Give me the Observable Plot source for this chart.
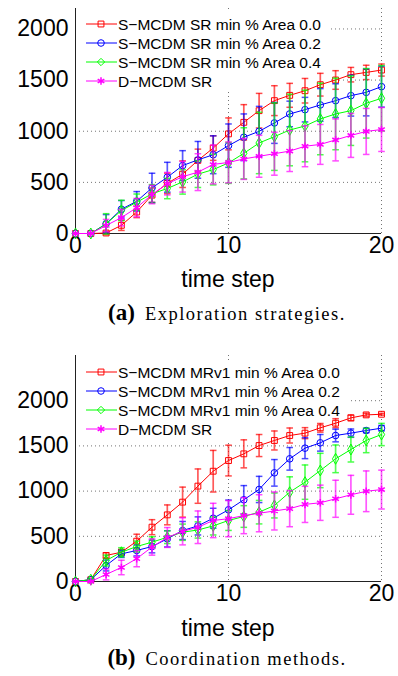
<!DOCTYPE html>
<html>
<head>
<meta charset="utf-8">
<script src="https://cdn.jsdelivr.net/npm/d3@7"></script>
<script src="https://cdn.jsdelivr.net/npm/@observablehq/plot@0.6"></script>
<style>
  body { margin: 0; background: white; }
  #page { position: relative; width: 398px; height: 676px; overflow: hidden; background: white; }
  .abs { position: absolute; white-space: nowrap; }
  .xlabel { font-family: "Liberation Sans", Arial, sans-serif; font-size: 23px; color: #000; transform: translate(-50%, -50%); }
  .cap { font-family: "Liberation Serif", "Times New Roman", serif; color: #000; transform: translate(-50%, -50%); }
  .cap b { font-size: 23px; margin-right: 10px; }
  .cap span { font-size: 18.5px; letter-spacing: 1.5px; }
</style>
</head>
<body>
<div id="page">
  <div id="plotA" class="abs" style="left:0;top:0"></div>
  <div class="abs xlabel" style="left:228px;top:279px">time step</div>
  <div class="abs cap" style="left:227px;top:313px"><b>(a)</b><span>Exploration strategies.</span></div>
  <div id="plotB" class="abs" style="left:0;top:340px"></div>
  <div class="abs xlabel" style="left:228px;top:628px">time step</div>
  <div class="abs cap" style="left:227px;top:658px"><b>(b)</b><span>Coordination methods.</span></div>
</div>
<script>
// ---------- data ----------
const steps = [0,1,2,3,4,5,6,7,8,9,10,11,12,13,14,15,16,17,18,19,20];
const xTicks = [0, 10, 20];
const yTicks = [0, 500, 1000, 1500, 2000];

// (a) Exploration strategies
const srArea00    = [0,0,5,80,210,375,490,580,715,835,974,1087,1201,1299,1351,1396,1455,1501,1553,1575,1598];
const srArea00Err = [0,0,15,50,55,70,100,130,110,120,156,173,169,146,117,120,111,91,71,70,59];
const srArea02    = [0,0,95,237,315,446,550,664,720,770,859,941,999,1081,1169,1211,1257,1299,1348,1380,1436];
const srArea02Err = [0,0,90,85,95,143,146,146,180,185,212,228,244,200,125,120,160,165,200,230,200];
const srArea04    = [0,0,94,225,306,388,440,505,580,625,690,784,885,947,1012,1051,1120,1169,1201,1273,1322];
const srArea04Err = [0,10,100,100,80,90,100,120,130,150,200,250,300,330,350,350,350,350,340,340,320];
const dmcdmSR     = [0,0,78,155,253,381,487,555,600,675,695,729,755,780,806,853,871,915,959,998,1017];
const dmcdmSRErr  = [0,0,60,80,90,90,110,150,180,190,200,200,205,210,200,200,195,205,215,225,215];

// (b) Coordination methods
const mrArea00    = [0,20,288,324,446,601,737,878,1055,1220,1338,1412,1504,1560,1615,1641,1700,1751,1810,1843,1850];
const mrArea00Err = [0,10,30,30,77,83,110,166,190,230,170,155,122,105,83,61,48,50,31,18,10];
const mrArea02    = [0,20,177,306,343,387,472,564,615,700,793,904,1018,1202,1357,1475,1534,1615,1641,1670,1696];
const mrArea02Err = [0,10,60,40,60,70,90,100,100,110,108,157,145,147,125,116,92,70,46,24,30];
const mrArea04    = [0,20,232,324,387,435,490,545,570,615,675,719,767,841,988,1099,1228,1357,1460,1560,1626];
const mrArea04Err = [0,10,60,50,60,60,70,90,90,100,110,120,130,138,170,190,190,153,138,135,123];

const labelsA = ["S\u2212MCDM SR min % Area 0.0", "S\u2212MCDM SR min % Area 0.2", "S\u2212MCDM SR min % Area 0.4", "D\u2212MCDM SR"];
const labelsB = ["S\u2212MCDM MRv1 min % Area 0.0", "S\u2212MCDM MRv1 min % Area 0.2", "S\u2212MCDM MRv1 min % Area 0.4", "D\u2212MCDM SR"];
const colors  = ["#ff0000", "#0000ff", "#00ff00", "#ff00ff"];
const symbols = ["square", "circle", "diamond", "asterisk"];

// ---------- helpers ----------
const capSymbol = {
  draw(ctx, size) {
    const w = Math.sqrt(size / Math.PI);
    ctx.moveTo(-w, 0);
    ctx.lineTo(w, 0);
  }
};

function rows(vals, errs) {
  return steps.map((t, i) => ({t, v: vals[i], lo: vals[i] - errs[i], hi: vals[i] + errs[i]}));
}

function seriesMarks(data, color, symbol) {
  const isAst = symbol === "asterisk";
  return [
    Plot.ruleX(data, {x: "t", y1: "lo", y2: "hi", stroke: color, strokeOpacity: 0.65, strokeWidth: 1.7}),
    Plot.dot(data, {x: "t", y: "lo", symbol: capSymbol, r: 3.3, stroke: color, strokeOpacity: 0.7, strokeWidth: 1.5}),
    Plot.dot(data, {x: "t", y: "hi", symbol: capSymbol, r: 3.3, stroke: color, strokeOpacity: 0.7, strokeWidth: 1.5}),
    Plot.line(data, {x: "t", y: "v", stroke: color, strokeWidth: 1}),
    Plot.dot(data, {x: "t", y: "v", symbol, r: isAst ? 3.6 : 3.3, stroke: color, fill: isAst ? color : "none", strokeWidth: isAst ? 1.5 : 1})
  ];
}

function symbolType(name) {
  return {square: d3.symbolSquare, circle: d3.symbolCircle, diamond: d3.symbolDiamond2 || d3.symbolDiamond, asterisk: d3.symbolAsterisk || d3.symbolCross}[name];
}

function legendMark(labels, opt) {
  return (index, scales, values, dims) => {
    const g = d3.create("svg:g").attr("text-anchor", "start");
    const x0 = dims.marginLeft, y0 = dims.marginTop;
    g.append("rect")
      .attr("x", x0 + 4).attr("y", y0 + opt.bgTop)
      .attr("width", opt.bgWidth).attr("height", opt.bgHeight)
      .attr("fill", "white");
    labels.forEach((lab, i) => {
      const y = y0 + opt.rowTop + i * opt.rowStep;
      g.append("line").attr("x1", x0 + 11).attr("x2", x0 + 42).attr("y1", y).attr("y2", y)
        .attr("stroke", colors[i]).attr("stroke-width", 1);
      const r = symbols[i] === "asterisk" ? 3.6 : 3.3;
      g.append("path")
        .attr("transform", `translate(${x0 + 26},${y})`)
        .attr("d", d3.symbol(symbolType(symbols[i]), r * r * Math.PI)())
        .attr("stroke", colors[i])
        .attr("stroke-width", symbols[i] === "asterisk" ? 1.5 : 1)
        .attr("fill", symbols[i] === "asterisk" ? colors[i] : "none");
      g.append("text").attr("x", x0 + 43).attr("y", y).attr("dy", "0.36em")
        .attr("text-anchor", "start")
        .attr("font-size", "15.5px").attr("fill", "#000")
        .attr("font-family", "'Liberation Sans', Arial, sans-serif")
        .text(lab);
    });
    return g.node();
  };
}

function makePlot(series, labels, cfg) {
  const marks = [
    Plot.gridY(yTicks.slice(1), {stroke: "#000", strokeOpacity: 0.55, strokeDasharray: "1,3"}),
    Plot.gridX(xTicks.slice(1), {stroke: "#000", strokeOpacity: 0.55, strokeDasharray: "1,3"}),
    legendMark(labels, cfg.legend),
    Plot.ruleX([0], {stroke: "#222"}),
    Plot.ruleY([0], {stroke: "#222"}),
    Plot.axisX(xTicks, {tickSize: 0, tickPadding: 3, fontSize: 23, label: null, tickFormat: d => String(d)}),
    Plot.axisY(yTicks, {tickSize: 0, tickPadding: 7, fontSize: 23, label: null, tickFormat: d => String(d)})
  ];
  series.forEach((s, i) => marks.push(...seriesMarks(rows(s[0], s[1]), colors[i], symbols[i])));
  return Plot.plot({
    width: 398,
    height: cfg.height,
    marginLeft: 75,
    marginRight: 17,
    marginTop: cfg.marginTop,
    marginBottom: cfg.marginBottom,
    style: {background: "transparent", fontFamily: "'Liberation Sans', Arial, sans-serif", fontSize: "23px", color: "#000", overflow: "visible"},
    x: {domain: [0, 20]},
    y: {domain: cfg.yDomain},
    marks
  });
}

document.getElementById("plotA").append(makePlot(
  [[srArea00, srArea00Err], [srArea02, srArea02Err], [srArea04, srArea04Err], [dmcdmSR, dmcdmSRErr]],
  labelsA,
  {height: 290, marginTop: 8, marginBottom: 57, yDomain: [0, 2200],
   legend: {bgTop: 4, bgWidth: 252, bgHeight: 80, rowTop: 16, rowStep: 19}}
));

document.getElementById("plotB").append(makePlot(
  [[mrArea00, mrArea00Err], [mrArea02, mrArea02Err], [mrArea04, mrArea04Err], [dmcdmSR, dmcdmSRErr]],
  labelsB,
  {height: 300, marginTop: 15, marginBottom: 59, yDomain: [0, 2500],
   legend: {bgTop: 7, bgWidth: 272, bgHeight: 78, rowTop: 17, rowStep: 19}}
));
</script>
</body>
</html>
